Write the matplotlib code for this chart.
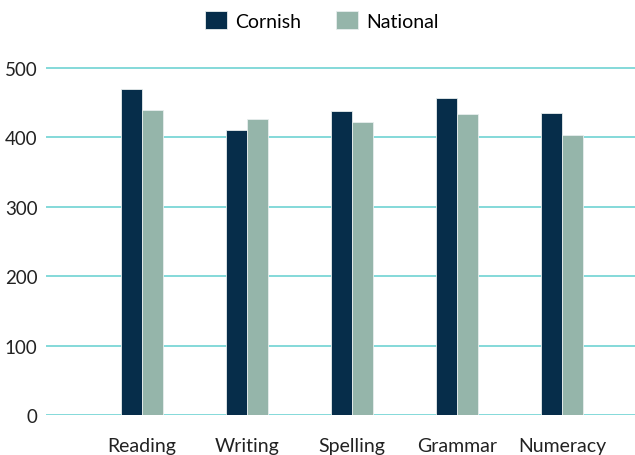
import numpy as np
import matplotlib.pyplot as plt

plt.rcParams['font.family'] = ['Lato', 'DejaVu Sans']

categories = ["Reading", "Writing", "Spelling", "Grammar", "Numeracy"]
cornish = [470, 411, 438, 457, 435]
national = [440, 426, 422, 434, 404]

fig = plt.figure(figsize=(6.35, 4.56), dpi=100)
ax = fig.add_axes([0.0724, 0.0877, 0.9276, 0.776])

x = np.arange(len(categories))
w = 0.2
ax.bar(x - w / 2, cornish, w, color="#062d4a", edgecolor="#e8eeee", linewidth=0.6,
       label="Cornish", zorder=3)
ax.bar(x + w / 2, national, w, color="#95b5aa", edgecolor="#e8eeee", linewidth=0.6,
       label="National", zorder=3)

ax.set_xlim(-0.914, 4.695)
ax.set_ylim(0, 510)
ax.set_yticks([0, 100, 200, 300, 400, 500])
ax.set_xticks(x)
ax.set_xticklabels(categories, fontsize=14)
ax.grid(axis="y", color="#6fd3d3", linewidth=1.2, zorder=0)
ax.tick_params(axis="both", length=0, colors="#222222")
ax.tick_params(axis="y", labelsize=13.5, pad=6)
ax.tick_params(axis="x", pad=16)
for s in ax.spines.values():
    s.set_visible(False)

ax.legend(loc="center", bbox_to_anchor=(0.469, 1.116), ncol=2, frameon=False,
          fontsize=14, handlelength=1.1, handleheight=1.1, columnspacing=1.8,
          handletextpad=0.45)

fig.savefig("out.png", dpi=100)
